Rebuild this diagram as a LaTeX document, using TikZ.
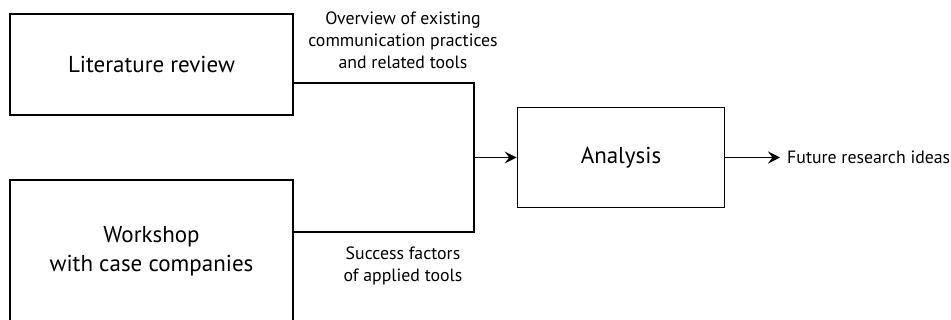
\documentclass[tikz,border=0pt]{standalone}
\usepackage{fontspec}
\setmainfont{PT Sans}
\usetikzlibrary{arrows.meta}
\begin{document}
\begin{tikzpicture}[x=1pt,y=-1pt,
  box/.style={draw,line width=1.7pt,inner sep=0pt,align=center,font=\fontsize{23}{29}\selectfont},
  lbl/.style={inner sep=0pt,align=center,font=\fontsize{17.8}{22}\selectfont},
  conn/.style={line width=1.7pt},
  arr/.style={line width=1.7pt,-{Stealth[length=12pt,width=12pt,inset=4.5pt]}}]
\useasboundingbox (0,0) rectangle (951,320);
\clip (0,0) rectangle (951,320);
\node[box,minimum width=283pt,minimum height=101pt] (lit) at (151.5,64.5) {Literature review};
\node[box,minimum width=283pt,minimum height=142pt] (work) at (151.5,251) {Workshop\\with case companies};
\node[box,minimum width=207pt,minimum height=100pt] (ana) at (621,157.5) {Analysis};
\coordinate (jt) at (474,83);
\coordinate (jb) at (474,232);
\coordinate (jm) at (474,157.5);
\coordinate (out) at (780,157.5);
\draw[conn] (lit.east |- jt) -- (jt) -- (jb) -- (work.east |- jb);
\draw[arr] (jm) -- (ana.west);
\draw[arr] (ana.east) -- (out);
\node[lbl,anchor=west] (fut) at (787,157.5) {Future research ideas};
\node[lbl] (ov) at (403,40) {Overview of existing\\communication practices\\and related tools};
\node[lbl] (sf) at (403,266) {Success factors\\of applied tools};
\end{tikzpicture}
\end{document}
